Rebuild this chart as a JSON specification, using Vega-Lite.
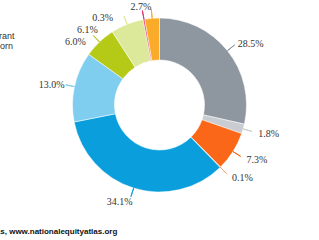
{
  "$schema": "https://vega.github.io/schema/vega-lite/v6.json",
  "width": 319,
  "height": 210,
  "autosize": {"type": "none"},
  "padding": {"left": 0, "right": 0, "top": 0, "bottom": 30},
  "background": "white",
  "config": {"view": {"stroke": null}},
  "title": {
    "text": "National Equity Atlas, www.nationalequityatlas.org",
    "orient": "bottom",
    "anchor": "start",
    "frame": "group",
    "dx": -75,
    "offset": 11,
    "baseline": "alphabetic",
    "font": "Liberation Sans",
    "fontSize": 8,
    "fontWeight": "bold",
    "color": "#111"
  },
  "data": {
    "values": [
      {"group": "White, U.S.-born", "share": 0.285, "idx": 1},
      {"group": "White, immigrant", "share": 0.018, "idx": 2},
      {"group": "Black, U.S.-born", "share": 0.073, "idx": 3},
      {"group": "Black, immigrant", "share": 0.001, "idx": 4},
      {"group": "Latino, U.S.-born", "share": 0.341, "idx": 5},
      {"group": "Latino, immigrant", "share": 0.130, "idx": 6},
      {"group": "Asian/Pacific Islander, U.S.-born", "share": 0.060, "idx": 7},
      {"group": "Asian/Pacific Islander, immigrant", "share": 0.061, "idx": 8},
      {"group": "Native American", "share": 0.003, "idx": 9},
      {"group": "Mixed/other", "share": 0.027, "idx": 10}
    ]
  },
  "layer": [
    {
      "mark": {"type": "arc", "outerRadius": 87, "innerRadius": 45, "stroke": "#ffffff", "strokeWidth": 0.5},
      "encoding": {
        "theta": {"field": "share", "type": "quantitative", "stack": true},
        "order": {"field": "idx", "type": "quantitative"},
        "color": {
          "field": "group",
          "type": "nominal",
          "legend": null,
          "scale": {
            "domain": ["White, U.S.-born", "White, immigrant", "Black, U.S.-born", "Black, immigrant", "Latino, U.S.-born", "Latino, immigrant", "Asian/Pacific Islander, U.S.-born", "Asian/Pacific Islander, immigrant", "Native American", "Mixed/other"],
            "range": ["#8e969f", "#c9cdd1", "#fa6718", "#f7a47c", "#0a9fdc", "#7fcdef", "#b4ca17", "#dce99a", "#e6336f", "#fbab2a"]
          }
        }
      }
    },
    {
      "mark": {"type": "arc", "filled": false, "outerRadius": 96, "innerRadius": 87, "padAngle": 3.14, "strokeWidth": 1},
      "encoding": {
        "theta": {"field": "share", "type": "quantitative", "stack": true},
        "order": {"field": "idx", "type": "quantitative"},
        "color": {"field": "group", "type": "nominal", "legend": null}
      }
    },
    {
      "mark": {"type": "text", "radius": 100, "dx": 13, "dy": 1.5, "font": "Liberation Serif", "fontSize": 10, "fill": "#333"},
      "encoding": {
        "theta": {"field": "share", "type": "quantitative", "stack": true},
        "order": {"field": "idx", "type": "quantitative"},
        "text": {"condition": {"test": "datum.idx <= 4", "field": "share", "type": "quantitative", "format": ".1%"}, "value": ""}
      }
    },
    {
      "mark": {"type": "text", "radius": 100, "dx": -10, "dy": 1.5, "font": "Liberation Serif", "fontSize": 10, "fill": "#333"},
      "encoding": {
        "theta": {"field": "share", "type": "quantitative", "stack": true},
        "order": {"field": "idx", "type": "quantitative"},
        "text": {"condition": {"test": "datum.idx == 5 || datum.idx == 6 || datum.idx == 10", "field": "share", "type": "quantitative", "format": ".1%"}, "value": ""}
      }
    },
    {
      "mark": {"type": "text", "radius": 100, "dx": -15, "dy": 9, "font": "Liberation Serif", "fontSize": 10, "fill": "#333"},
      "encoding": {
        "theta": {"field": "share", "type": "quantitative", "stack": true},
        "order": {"field": "idx", "type": "quantitative"},
        "text": {"condition": {"test": "datum.idx == 7", "field": "share", "type": "quantitative", "format": ".1%"}, "value": ""}
      }
    },
    {
      "mark": {"type": "text", "radius": 100, "dx": -35, "dy": 18, "font": "Liberation Serif", "fontSize": 10, "fill": "#333"},
      "encoding": {
        "theta": {"field": "share", "type": "quantitative", "stack": true},
        "order": {"field": "idx", "type": "quantitative"},
        "text": {"condition": {"test": "datum.idx == 8", "field": "share", "type": "quantitative", "format": ".1%"}, "value": ""}
      }
    },
    {
      "mark": {"type": "text", "radius": 100, "dx": -39, "dy": 11, "font": "Liberation Serif", "fontSize": 10, "fill": "#333"},
      "encoding": {
        "theta": {"field": "share", "type": "quantitative", "stack": true},
        "order": {"field": "idx", "type": "quantitative"},
        "text": {"condition": {"test": "datum.idx == 9", "field": "share", "type": "quantitative", "format": ".1%"}, "value": ""}
      }
    },
    {
      "data": {"values": [{"nativity": "Immigrant"}, {"nativity": "U.S.-born"}]},
      "mark": {"type": "point", "opacity": 0},
      "encoding": {
        "shape": {
          "field": "nativity",
          "type": "nominal",
          "legend": {
            "orient": "none",
            "legendX": -38.5,
            "legendY": 31,
            "title": null,
            "labelFont": "Liberation Sans",
            "labelFontSize": 9,
            "labelColor": "#333",
            "symbolSize": 30,
            "clipHeight": 10,
            "padding": 0,
            "rowPadding": 0,
            "labelOffset": 4
          }
        }
      }
    }
  ]
}
